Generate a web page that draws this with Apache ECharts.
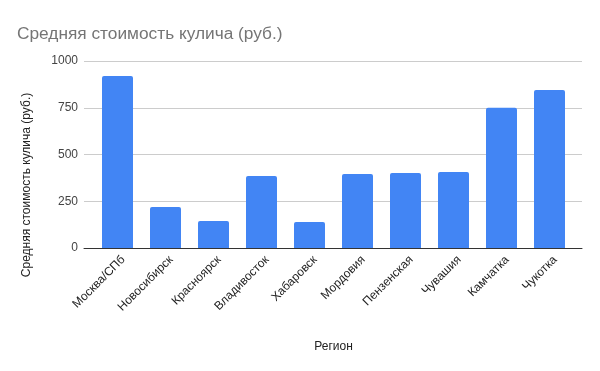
<!DOCTYPE html>
<html>
<head>
<meta charset="utf-8">
<script src="https://cdn.jsdelivr.net/npm/echarts@6/dist/echarts.min.js"></script>
<style>html,body{margin:0;padding:0;background:#fff}#c{width:600px;height:371px}</style>
</head>
<body>
<div id="c"></div>
<script>
const categories = ["Москва/СПб","Новосибирск","Красноярск","Владивосток","Хабаровск","Мордовия","Пензенская","Чувашия","Камчатка","Чукотка"];
const values = [920, 219, 144, 385, 139, 396, 401, 406, 750, 845];
const yTicks = [0, 250, 500, 750, 1000];
const FONT = '"Liberation Sans", Arial, sans-serif';

const chart = echarts.init(document.getElementById('c'), null, {renderer: 'canvas'});
chart.setOption({
  animation: false,
  backgroundColor: '#fff',
  title: {
    text: 'Средняя стоимость кулича (руб.)',
    left: 12, top: 21,
    textStyle: {fontFamily: FONT, fontSize: 17.3, fontWeight: 'normal', color: '#757575'}
  },
  grid: [
    {left: 84, right: 18, top: 61, bottom: 123},
    {left: 93.5, right: 26.5, top: 61, bottom: 123}
  ],
  xAxis: [{
    gridIndex: 0,
    type: 'value', min: 0, max: 1,
    axisLine: {show: true, lineStyle: {color: '#333', width: 1}},
    axisTick: {show: false},
    axisLabel: {show: false},
    splitLine: {show: false}
  }, {
    gridIndex: 1,
    type: 'category',
    data: categories,
    name: 'Регион',
    nameLocation: 'middle',
    nameGap: 93,
    nameTextStyle: {fontFamily: FONT, fontSize: 12, color: '#222'},
    axisLine: {show: false},
    axisTick: {show: false},
    axisLabel: {rotate: 45, interval: 0, margin: 7, verticalAlign: 'top', padding: [0, -2, 0, 0], fontFamily: FONT, fontSize: 12, color: '#222'}
  }],
  yAxis: [{
    gridIndex: 0,
    type: 'value',
    min: yTicks[0], max: yTicks[yTicks.length-1], interval: 250,
    axisLine: {show: false},
    axisTick: {show: false},
    axisLabel: {margin: 6, formatter: v => String(v), fontFamily: FONT, fontSize: 12, color: '#444'},
    splitLine: {lineStyle: {color: '#ccc', width: 1}}
  }, {
    gridIndex: 1,
    type: 'value',
    min: yTicks[0], max: yTicks[yTicks.length-1], interval: 250,
    axisLine: {show: false},
    axisTick: {show: false},
    axisLabel: {show: false},
    splitLine: {show: false}
  }],
  graphic: [{
    type: 'text',
    x: 27, y: 185,
    rotation: Math.PI / 2,
    style: {
      text: 'Средняя стоимость кулича (руб.)',
      font: '12px ' + FONT,
      fill: '#222',
      align: 'center',
      verticalAlign: 'middle'
    }
  }],
  series: [{
    type: 'bar',
    xAxisIndex: 1,
    yAxisIndex: 1,
    data: values,
    barWidth: 31,
    itemStyle: {color: '#4285F4', borderRadius: [2,2,0,0]}
  }]
});
</script>
</body>
</html>
